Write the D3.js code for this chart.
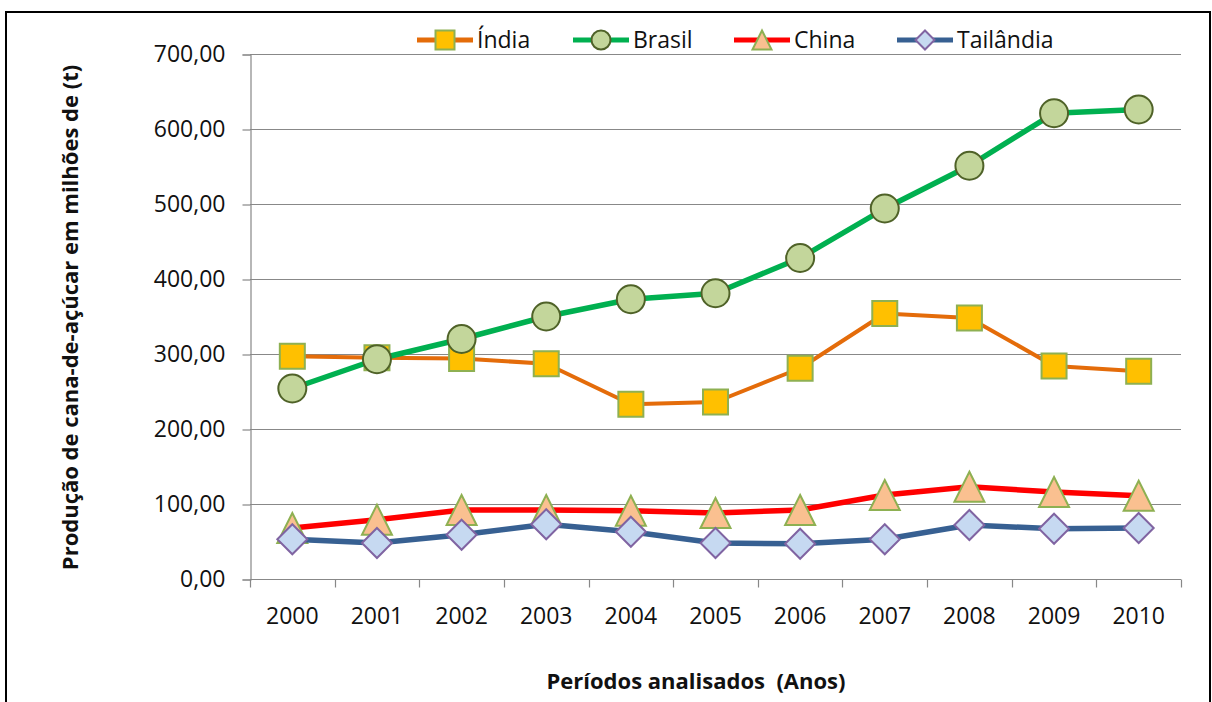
<!DOCTYPE html>
<html>
<head>
<meta charset="utf-8">
<script src="https://cdn.jsdelivr.net/npm/d3@7/dist/d3.min.js"></script>
<style>
  html, body { margin: 0; padding: 0; background: #fff; }
  svg { display: block; font-family: "Open Sans", sans-serif; }
</style>
</head>
<body>
<svg id="chart" width="1212" height="702"></svg>
<script>
// Sugar-cane production (million t) by country, 2000-2010
const years = ["2000", "2001", "2002", "2003", "2004", "2005", "2006", "2007", "2008", "2009", "2010"];
const india = [297, 295, 294, 287, 233, 236, 281, 354, 348, 284, 277];
const brasil = [254, 293, 320, 350, 373, 381, 428, 494, 551, 621, 626];
const china = [68, 79, 92, 92, 91, 88, 92, 112, 123, 116, 111];
const tailandia = [53, 48, 59, 73, 63, 48, 47, 53, 72, 67, 68];
const yTicks = [0, 100, 200, 300, 400, 500, 600, 700];

const series = [
  { name: "Índia", values: india, line: "#E46C0A", lw: 4, shape: "square", fill: "#FFC000", stroke: "#8EB052", size: 25 },
  { name: "Brasil", values: brasil, line: "#00B050", lw: 5.5, shape: "circle", fill: "#C3D69B", stroke: "#4F6228", size: 28 },
  { name: "China", values: china, line: "#FF0000", lw: 5.5, shape: "triangle", fill: "#FAC090", stroke: "#8EB052", size: 30 },
  { name: "Tailândia", values: tailandia, line: "#376092", lw: 5.5, shape: "diamond", fill: "#C6D9F1", stroke: "#8064A2", size: 30 }
];

const svg = d3.select("#chart");
const plot = { left: 250, right: 1181, top: 54, bottom: 579 };

const x = d3.scaleBand().domain(years).range([plot.left, plot.right]).padding(0);
const y = d3.scaleLinear().domain([0, 700]).range([plot.bottom, plot.top]);
const fmt = v => d3.format(".2f")(v).replace(".", ",");

// outer frame
svg.append("rect")
  .attr("x", 6).attr("y", 12).attr("width", 1204).attr("height", 720)
  .attr("fill", "none").attr("stroke", "#000").attr("stroke-width", 2);

// horizontal gridlines
svg.append("g").selectAll("line").data(yTicks.filter(d => d > 0)).join("line")
  .attr("x1", plot.left).attr("x2", plot.right)
  .attr("y1", d => Math.round(y(d)) + 0.5).attr("y2", d => Math.round(y(d)) + 0.5)
  .attr("stroke", "#888").attr("stroke-width", 1.2);

// y axis
const yAxis = svg.append("g")
  .attr("transform", `translate(${plot.left + 0.5},0.5)`)
  .call(d3.axisLeft(y).tickValues(yTicks).tickFormat(fmt).tickSize(8).tickPadding(17));
yAxis.select(".domain").attr("stroke", "#888").attr("stroke-width", 1.2);
yAxis.selectAll(".tick line").attr("stroke", "#888").attr("stroke-width", 1.2);
yAxis.selectAll("text").attr("font-size", 23).attr("fill", "#111")
  .attr("font-family", "'Open Sans', sans-serif");

// x axis: ticks at category boundaries
const xAxisG = svg.append("g").attr("transform", `translate(0,${plot.bottom + 0.5})`);
xAxisG.append("line").attr("x1", plot.left).attr("x2", plot.right)
  .attr("stroke", "#888").attr("stroke-width", 1.2);
const bounds = years.map(d => x(d)).concat([plot.right]);
xAxisG.selectAll("line.tk").data(bounds).join("line").attr("class", "tk")
  .attr("x1", d => Math.round(d) + 0.5).attr("x2", d => Math.round(d) + 0.5)
  .attr("y1", 0).attr("y2", 8).attr("stroke", "#888").attr("stroke-width", 1.2);
xAxisG.selectAll("text").data(years).join("text")
  .attr("x", d => x(d) + x.bandwidth() / 2).attr("y", 44)
  .attr("text-anchor", "middle").attr("font-size", 23).attr("fill", "#111")
  .text(d => d);

// axis titles
svg.append("text")
  .attr("transform", `translate(78,${(plot.top + plot.bottom) / 2 + 1}) rotate(-90)`)
  .attr("text-anchor", "middle").attr("font-size", 22).attr("font-weight", "bold").attr("fill", "#111")
  .text("Produção de cana-de-açúcar em milhões de (t)");
svg.append("text")
  .attr("x", 696).attr("y", 689).attr("text-anchor", "middle")
  .attr("font-size", 22).attr("font-weight", "bold").attr("fill", "#111")
  .attr("xml:space", "preserve")
  .text("Períodos analisados  (Anos)");

// marker drawing helper
function drawMarker(sel, s, size) {
  const h = size / 2;
  if (s.shape === "square") {
    sel.append("rect").attr("x", -h).attr("y", -h).attr("width", size).attr("height", size);
  } else if (s.shape === "circle") {
    sel.append("circle").attr("r", h);
  } else if (s.shape === "triangle") {
    sel.append("path").attr("d", `M0,${-h}L${h},${h}L${-h},${h}Z`);
  } else {
    sel.append("path").attr("d", `M0,${-h}L${h},0L0,${h}L${-h},0Z`);
  }
  sel.selectAll("*").attr("fill", s.fill).attr("stroke", s.stroke).attr("stroke-width", 2);
}

const cx = d => x(d) + x.bandwidth() / 2;
const lineGen = d3.line().x(d => cx(d.year)).y(d => y(d.v));

series.forEach(s => {
  const pts = years.map((yr, i) => ({ year: yr, v: s.values[i] }));
  const g = svg.append("g");
  g.append("path").datum(pts).attr("d", lineGen)
    .attr("fill", "none").attr("stroke", s.line).attr("stroke-width", s.lw)
    .attr("stroke-linejoin", "round");
  g.selectAll("g.m").data(pts).join("g").attr("class", "m")
    .attr("transform", d => `translate(${cx(d.year)},${y(d.v)})`)
    .each(function () { drawMarker(d3.select(this), s, s.size); });
});

// legend
const legendX = [417, 573, 734, 897];
const legendY = 40;
series.forEach((s, i) => {
  const g = svg.append("g").attr("transform", `translate(${legendX[i]},${legendY})`);
  g.append("line").attr("x1", 0).attr("x2", 56).attr("stroke", s.line).attr("stroke-width", 5);
  const m = g.append("g").attr("transform", "translate(28,0)");
  drawMarker(m, s, 19);
  g.append("text").attr("x", 60).attr("y", 8).attr("font-size", 23).attr("fill", "#111").text(s.name);
});
</script>
</body>
</html>
